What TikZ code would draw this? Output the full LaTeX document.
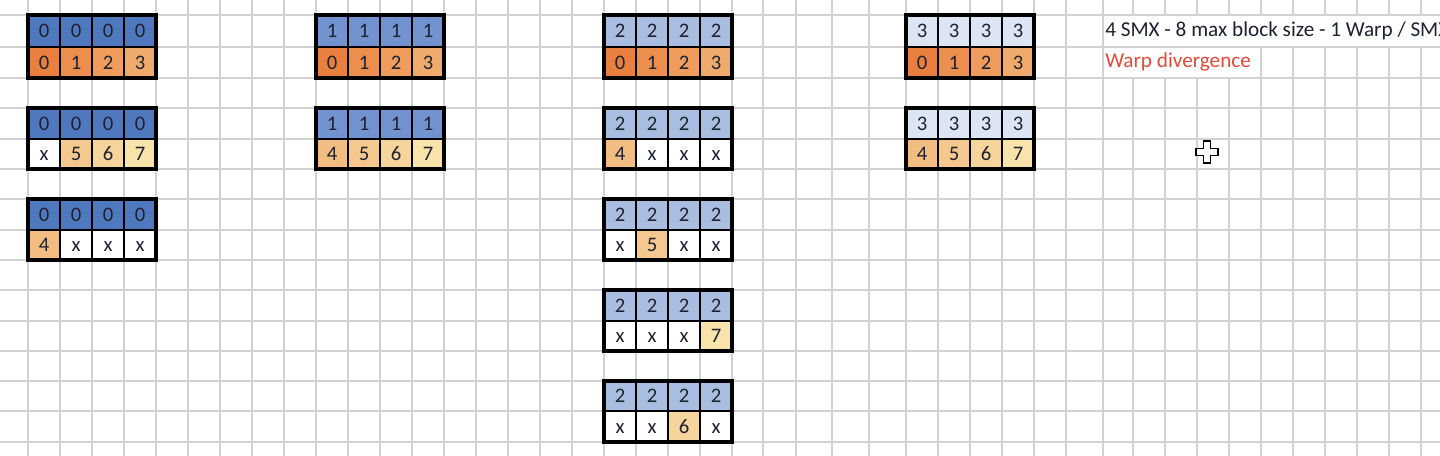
\documentclass[tikz,border=0pt]{standalone}
\usepackage{fontspec}
\setmainfont{Carlito}
\definecolor{gridgray}{HTML}{D2D2D2}
\definecolor{txtcol}{HTML}{1E2230}
\definecolor{warpred}{HTML}{E24A3B}
\definecolor{bz}{HTML}{4F78BE}
\definecolor{bo}{HTML}{7293CF}
\definecolor{bt}{HTML}{A8BDE0}
\definecolor{bh}{HTML}{DCE5F3}
\definecolor{oa}{HTML}{E97F3E}
\definecolor{ob}{HTML}{EC8F4E}
\definecolor{oc}{HTML}{EF9C5C}
\definecolor{od}{HTML}{F0AB6C}
\definecolor{oe}{HTML}{F2BD80}
\definecolor{of}{HTML}{F4C88E}
\definecolor{og}{HTML}{F6D59C}
\definecolor{oh}{HTML}{F8E3AB}
\newcommand\wbfont{\fontsize{15.5}{18}\selectfont}
\newcommand\wblabfont{\fontsize{15.9}{19}\selectfont}
\tikzset{
  gridline/.style={draw=gridgray, line width=0.85pt},
  cell/.style={draw=black, line width=1.2pt, minimum width=24pt, inner sep=0pt,
    text=txtcol, text height=9.8pt, text depth=0pt, anchor=center},
  outerbox/.style={draw=black, line width=2.3pt, line join=miter},
  label/.style={anchor=base west, inner sep=0pt, text=txtcol, font=\wblabfont},
  cursorshape/.style={draw=black, fill=white, line width=0.8pt},
  every node/.style={font=\wbfont}
}
\newcommand\wblk[8]{%
  \pgfmathsetmacro\wbHa{(#4-#3)*0.75}%
  \pgfmathsetmacro\wbHb{(#5-#4)*0.75}%
  \foreach \wbT/\wbF [count=\wbI] in {#8} {
    \pgfmathsetmacro\wbCx{#2+32*\wbI-16}
    \node[cell, fill=#6, minimum height=\wbHa pt] (#1t\wbI) at (\wbCx,{(#3+#4)/2}) {#7};
    \node[cell, fill=\wbF, minimum height=\wbHb pt] (#1b\wbI) at (\wbCx,{(#4+#5)/2}) {\wbT};
  }
  \draw[outerbox] (#2,#3) rectangle ({#2+128},#5);
}
\begin{document}
\begin{tikzpicture}[x=0.75pt,y=-0.75pt]
\clip (0,0) rectangle (1440,456);
\fill[white] (0,0) rectangle (1440,456);
% spreadsheet grid
\foreach \gx in {28,60,92,124,156,188,220,252,284,316,348,380,412,444,476,508,540,572,604,636,668,700,732,763,796,832,869,906,938,970,1002,1034,1066,1103,1133,1165,1197,1229,1261,1293,1325,1357,1389,1421}
  \draw[gridline] (\gx,0) -- (\gx,456);
\foreach \gy in {15,47,78,108,139,169,199,230,260,290,321,351,381,411,442}
  \draw[gridline] (0,\gy) -- (1440,\gy);
% overflowing text hides vertical gridlines
\fill[white] (1103.7,15.7) rectangle (1440,46.3);
\fill[white] (1103.7,47.7) rectangle (1260.3,77.3);
% blocks
\wblk{a}{28}{15}{47}{78}{bz}{0}{0/oa,1/ob,2/oc,3/od}
\wblk{b}{28}{108}{139}{169}{bz}{0}{x/white,5/of,6/og,7/oh}
\wblk{c}{28}{199}{230}{260}{bz}{0}{4/oe,x/white,x/white,x/white}
\wblk{d}{316}{15}{47}{78}{bo}{1}{0/oa,1/ob,2/oc,3/od}
\wblk{e}{316}{108}{139}{169}{bo}{1}{4/oe,5/of,6/og,7/oh}
\wblk{f}{604}{15}{47}{78}{bt}{2}{0/oa,1/ob,2/oc,3/od}
\wblk{g}{604}{108}{139}{169}{bt}{2}{4/oe,x/white,x/white,x/white}
\wblk{h}{604}{199}{230}{260}{bt}{2}{x/white,5/of,x/white,x/white}
\wblk{i}{604}{290}{321}{351}{bt}{2}{x/white,x/white,x/white,7/oh}
\wblk{j}{604}{381}{411}{442}{bt}{2}{x/white,x/white,6/og,x/white}
\wblk{k}{906}{15}{47}{78}{bh}{3}{0/oa,1/ob,2/oc,3/od}
\wblk{l}{906}{108}{139}{169}{bh}{3}{4/oe,5/of,6/og,7/oh}
% labels
\node[label] (title) at (1105,37) {4 SMX - 8 max block size - 1 Warp / SMX};
\node[label, text=warpred] (diverge) at (1105,68) {Warp divergence};
% mouse cursor
\draw[cursorshape, shift={(1207,152)}]
  (-3.5,-11) -- (3.5,-11) -- (3.5,-3.5) -- (11,-3.5) -- (11,3.5) -- (3.5,3.5)
  -- (3.5,11) -- (-3.5,11) -- (-3.5,3.5) -- (-11,3.5) -- (-11,-3.5) -- (-3.5,-3.5) -- cycle;
\end{tikzpicture}
\end{document}
